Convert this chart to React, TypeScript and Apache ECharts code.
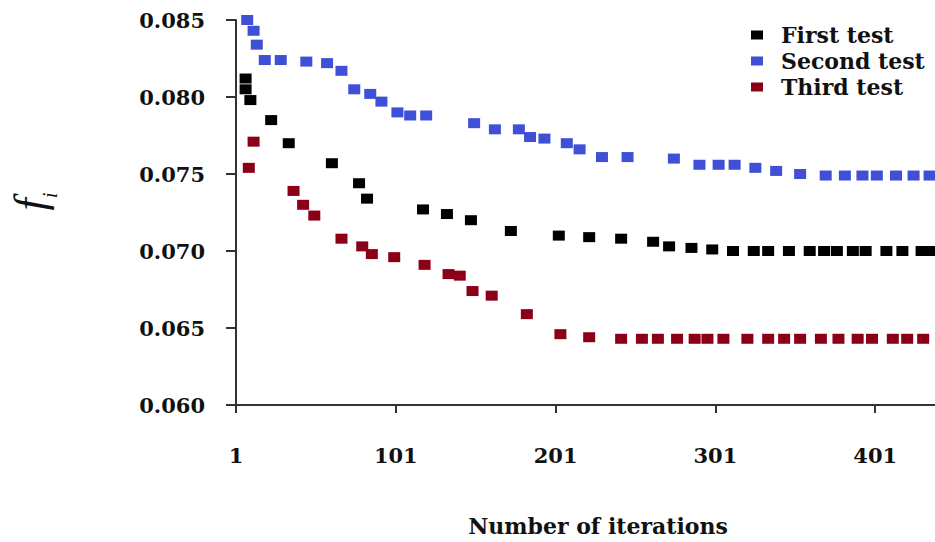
import React, { useEffect, useRef } from "react";
import * as echarts from "echarts";

const seriesNames = ["First test", "Second test", "Third test"];

const firstIter = [7, 7, 10, 23, 34, 61, 78, 83, 118, 133, 148, 173, 203, 222, 242, 262, 272, 286, 299, 312, 325, 334, 347, 360, 369, 377, 387, 395, 408, 418, 430, 437];
const firstVal = [0.0812, 0.0805, 0.0798, 0.0785, 0.077, 0.0757, 0.0744, 0.0734, 0.0727, 0.0724, 0.072, 0.0713, 0.071, 0.0709, 0.0708, 0.0706, 0.0703, 0.0702, 0.0701, 0.07, 0.07, 0.07, 0.07, 0.07, 0.07, 0.07, 0.07, 0.07, 0.07, 0.07, 0.07, 0.07];

const secondIter = [8, 12, 14, 19, 29, 45, 58, 67, 75, 85, 92, 102, 110, 120, 150, 163, 178, 185, 194, 208, 216, 230, 246, 275, 291, 303, 313, 326, 339, 354, 370, 382, 393, 402, 414, 425, 435];
const secondVal = [0.085, 0.0843, 0.0834, 0.0824, 0.0824, 0.0823, 0.0822, 0.0817, 0.0805, 0.0802, 0.0797, 0.079, 0.0788, 0.0788, 0.0783, 0.0779, 0.0779, 0.0774, 0.0773, 0.077, 0.0766, 0.0761, 0.0761, 0.076, 0.0756, 0.0756, 0.0756, 0.0754, 0.0752, 0.075, 0.0749, 0.0749, 0.0749, 0.0749, 0.0749, 0.0749, 0.0749];

const thirdIter = [9, 12, 37, 43, 50, 67, 80, 86, 100, 119, 134, 141, 149, 161, 183, 204, 222, 242, 255, 265, 277, 288, 296, 306, 321, 334, 344, 354, 367, 378, 390, 399, 412, 421, 431];
const thirdVal = [0.0754, 0.0771, 0.0739, 0.073, 0.0723, 0.0708, 0.0703, 0.0698, 0.0696, 0.0691, 0.0685, 0.0684, 0.0674, 0.0671, 0.0659, 0.0646, 0.0644, 0.0643, 0.0643, 0.0643, 0.0643, 0.0643, 0.0643, 0.0643, 0.0643, 0.0643, 0.0643, 0.0643, 0.0643, 0.0643, 0.0643, 0.0643, 0.0643, 0.0643, 0.0643];

const xTickLabels = ["1", "101", "201", "301", "401"];
const yTickLabels = ["0.060", "0.065", "0.070", "0.075", "0.080", "0.085"];

const colors = ["#000000", "#3f4fd6", "#8b0016"];

const zip = (xs: number[], ys: number[]) => xs.map((x, i) => [x, ys[i]]);

export default function App() {
  const ref = useRef<HTMLDivElement>(null);
  useEffect(() => {
    if (!ref.current) return;
    const chart = echarts.init(ref.current, null, { renderer: "svg" });
    const labelFont = {
      fontFamily: "DejaVu Serif",
      fontWeight: "bold" as const,
      fontSize: 21,
      color: "#111",
    };
    const datasets = [zip(firstIter, firstVal), zip(secondIter, secondVal), zip(thirdIter, thirdVal)];
    chart.setOption({
      animation: false,
      backgroundColor: "#ffffff",
      grid: { left: 234, right: 0, top: 20, bottom: 125, containLabel: false },
      legend: {
        orient: "vertical",
        left: 746,
        top: 19,
        itemWidth: 12,
        itemHeight: 9,
        itemGap: 4,
        icon: "rect",
        data: seriesNames,
        textStyle: { ...labelFont, fontSize: 22, padding: [0, 0, 0, 13] },
      },
      xAxis: {
        type: "value",
        min: 1,
        max: 438.4,
        interval: 100,
        name: "Number of iterations",
        nameLocation: "middle",
        nameGap: 110,
        nameTextStyle: { ...labelFont, fontSize: 22, padding: [0, 0, 0, 25] },
        axisLine: { show: true, lineStyle: { color: "#333", width: 2 } },
        axisTick: { show: true, length: 8, lineStyle: { color: "#333", width: 2 } },
        axisLabel: {
          ...labelFont,
          margin: 40,
          showMaxLabel: false,
          formatter: (v: number) => {
            const s = String(Math.round(v));
            return xTickLabels.includes(s) ? s : "";
          },
        },
        splitLine: { show: false },
      },
      yAxis: {
        type: "value",
        min: 0.06,
        max: 0.085,
        interval: 0.005,
        name: "{f|f}{i|i}",
        nameLocation: "middle",
        nameRotate: 90,
        nameGap: 184,
        nameTextStyle: {
          padding: [0, 0, 0, 22],
          rich: {
            f: {
              fontFamily: "Liberation Serif",
              fontStyle: "italic",
              fontSize: 44,
              color: "#111",
              verticalAlign: "bottom",
            },
            i: {
              fontFamily: "Liberation Serif",
              fontStyle: "italic",
              fontSize: 21,
              color: "#111",
              verticalAlign: "bottom",
              padding: [0, 0, -8, 0],
            },
          },
        },
        axisLine: { show: true, lineStyle: { color: "#333", width: 2 } },
        axisTick: { show: true, length: 10, lineStyle: { color: "#333", width: 2 } },
        axisLabel: {
          ...labelFont,
          margin: 31,
          formatter: (v: number) => {
            const s = v.toFixed(3);
            return yTickLabels.includes(s) ? s : "";
          },
        },
        splitLine: { show: false },
      },
      series: seriesNames.map((name, i) => ({
        name,
        type: "scatter",
        symbol: "rect",
        symbolSize: [12, 10],
        itemStyle: { color: colors[i], opacity: 1 },
        data: datasets[i],
        clip: false,
      })),
    });
    return () => chart.dispose();
  }, []);
  return (
    <div
      ref={ref}
      style={{ position: "absolute", left: 0, top: 0, width: 935, height: 542 }}
    />
  );
}
